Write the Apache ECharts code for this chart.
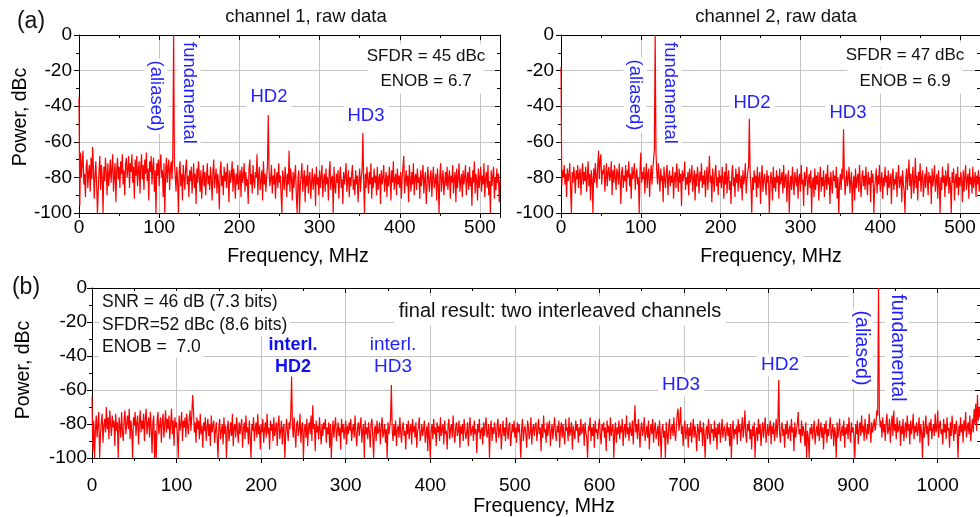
<!DOCTYPE html>
<html>
<head>
<meta charset="utf-8">
<script src="https://cdn.jsdelivr.net/npm/echarts@6/dist/echarts.min.js"></script>
<style>
html, body { margin: 0; padding: 0; background: #fff; }
#chart { width: 980px; height: 517px; }
</style>
</head>
<body>
<div id="chart"></div>
<script>
// one FFT bin per MHz, first bin at 0 MHz
const binMHz = 1;
const rawMaxMHz = 525;
const interlMaxMHz = 1050;

// channel 1, raw data (dBc)
const ch1Power = [
  -35,-96,-66,-80,-72,-65,-84,-78,-91,-74,-70,-86,-77,-73,-88,-69,-81,-63,-75,-92,
  -79,-71,-84,-100,-100,-76,-68,-87,-73,-80,-100,-74,-82,-69,-77,-90,-72,-85,-78,-70,
  -83,-75,-67,-88,-79,-72,-94,-76,-69,-81,-74,-86,-71,-78,-67,-84,-76,-90,-73,-69,
  -80,-75,-68,-86,-72,-77,-67,-83,-74,-92,-70,-79,-68,-85,-76,-71,-89,-74,-67,-81,
  -73,-87,-70,-78,-66,-82,-75,-93,-71,-77,-68,-84,-74,-69,-88,-76,-100,-72,-79,-70,
  -85,-73,-67,-80,-76,-91,-72,-100,-78,-69,-83,-74,-70,-87,-75,-71,-81,-67,0,-72,
  -79,-88,-74,-82,-100,-76,-71,-85,-78,-93,-73,-80,-87,-75,-70,-84,-79,-91,-76,-82,
  -74,-89,-80,-72,-86,-78,-95,-75,-83,-71,-79,-88,-76,-92,-81,-73,-85,-77,-90,-80,
  -72,-84,-79,-87,-74,-81,-93,-77,-70,-86,-80,-75,-89,-78,-83,-98,-76,-71,-85,-79,
  -90,-74,-82,-77,-86,-72,-80,-94,-76,-83,-79,-71,-88,-75,-81,-92,-78,-84,-73,-87,
  -80,-76,-91,-74,-83,-79,-72,-88,-77,-85,-81,-95,-75,-70,-84,-78,-89,-73,-82,-86,
  -77,-80,-67,-90,-79,-74,-87,-82,-76,-93,-71,-84,-78,-88,-80,-74,-45,-76,-85,-81,
  -73,-89,-79,-84,-75,-92,-81,-77,-86,-72,-83,-79,-90,-100,-76,-82,-87,-74,-80,-91,
  -78,-84,-65,-88,-75,-81,-93,-77,-86,-79,-73,-90,-100,-82,-76,-100,-85,-79,-72,-88,
  -81,-76,-94,-79,-85,-73,-89,-80,-77,-92,-83,-75,-87,-81,-78,-96,-74,-84,-80,-90,
  -76,-86,-79,-73,-91,-82,-78,-88,-75,-84,-80,-93,-77,-71,-87,-81,-79,-100,-74,-85,
  -89,-78,-83,-76,-92,-80,-74,-86,-81,-95,-77,-84,-79,-72,-88,-82,-76,-91,-80,-85,
  -78,-73,-87,-81,-90,-76,-84,-79,-94,-82,-75,-88,-80,-76,-55,-83,-100,-78,-86,-74,
  -81,-89,-77,-84,-72,-92,-80,-86,-75,-83,-79,-90,-74,-87,-81,-78,-95,-76,-84,-80,
  -73,-88,-82,-77,-91,-79,-85,-74,-80,-93,-76,-83,-71,-87,-81,-78,-90,-75,-84,-79,
  -86,-77,-92,-80,-74,-68,-89,-82,-76,-85,-79,-94,-73,-81,-88,-77,-84,-72,-90,-80,
  -78,-87,-75,-83,-80,-92,-76,-85,-79,-73,-89,-81,-77,-95,-84,-74,-82,-88,-79,-76,
  -91,-80,-74,-86,-82,-78,-93,-75,-84,-100,-79,-72,-88,-81,-76,-90,-83,-77,-85,-74,
  -87,-80,-76,-92,-79,-83,-73,-89,-81,-77,-94,-75,-86,-80,-72,-88,-82,-78,-91,-76,
  -84,-79,-73,-90,-81,-77,-87,-74,-85,-80,-96,-76,-83,-71,-89,-78,-82,-93,-75,-86,
  -80,-74,-88,-79,-84,-72,-91,-81,-77,-86,-73,-90,-82,-100,-76,-85,-79,-74,-92,-80,
  -87,-75,-83,-78,-94,-81
];

// channel 2, raw data (dBc)
const ch2Power = [
  -18,-85,-76,-80,-73,-84,-78,-91,-75,-82,-79,-72,-87,-100,-77,-83,-74,-80,-89,-76,
  -81,-73,-86,-78,-75,-90,-79,-72,-84,-77,-82,-74,-88,-80,-71,-85,-78,-93,-76,-81,
  -100,-75,-83,-72,-79,-86,-74,-65,-81,-70,-67,-84,-76,-78,-73,-88,-80,-72,-85,-77,
  -74,-82,-79,-71,-90,-76,-83,-73,-80,-87,-75,-78,-84,-72,-81,-95,-77,-74,-86,-79,
  -82,-73,-88,-76,-80,-71,-85,-78,-92,-74,-81,-77,-72,-87,-79,-75,-84,-80,-100,-76,
  -66,-83,-77,-81,-74,-89,-79,-72,-86,-78,-75,-91,-80,-73,-84,-76,-70,-64,0,-66,
  -77,-84,-72,-80,-88,-75,-82,-79,-94,-74,-81,-86,-77,-73,-90,-80,-76,-85,-79,-83,
  -74,-92,-81,-77,-86,-72,-80,-88,-75,-83,-78,-96,-76,-82,-79,-71,-87,-80,-84,-77,
  -90,-75,-83,-79,-73,-88,-81,-76,-93,-78,-85,-74,-80,-89,-77,-82,-72,-86,-79,-84,
  -76,-91,-80,-74,-87,-78,-68,-83,-79,-94,-75,-82,-88,-77,-73,-85,-80,-90,-76,-83,
  -79,-86,-74,-81,-92,-77,-84,-72,-89,-80,-76,-87,-82,-95,-78,-73,-85,-80,-91,-75,
  -83,-78,-88,-74,-81,-86,-79,-93,-76,-84,-80,-72,-89,-82,-77,-74,-47,-78,-85,-100,
  -80,-87,-76,-83,-79,-91,-74,-86,-81,-77,-95,-80,-73,-88,-82,-78,-84,-90,-76,-83,
  -79,-100,-85,-77,-81,-93,-74,-86,-80,-88,-76,-83,-79,-92,-75,-84,-81,-77,-89,-73,
  -86,-80,-78,-94,-82,-76,-100,-84,-79,-87,-74,-83,-90,-77,-81,-85,-75,-92,-80,-78,
  -88,-73,-84,-81,-96,-77,-85,-79,-74,-90,-82,-78,-86,-76,-100,-83,-80,-91,-75,-87,
  -79,-84,-77,-93,-81,-74,-88,-80,-85,-76,-91,-82,-78,-87,-73,-84,-80,-95,-77,-83,
  -89,-76,-82,-79,-86,-74,-92,-80,-100,-84,-78,-87,-75,-81,-53,-79,-90,-83,-76,-85,
  -80,-74,-89,-82,-77,-100,-84,-79,-93,-75,-86,-81,-78,-88,-73,-83,-91,-80,-76,-85,
  -79,-87,-74,-82,-90,-77,-84,-80,-94,-76,-83,-78,-100,-86,-81,-75,-89,-79,-84,-73,
  -88,-81,-77,-92,-80,-85,-74,-83,-79,-90,-76,-86,-82,-78,-95,-80,-75,-87,-81,-84,
  -77,-91,-80,-73,-86,-82,-79,-94,-76,-84,-88,-100,-81,-75,-87,-79,-70,-85,-78,-92,
  -80,-74,-89,-83,-69,-86,-79,-93,-77,-82,-72,-88,-80,-76,-91,-84,-78,-86,-74,-81,
  -90,-77,-83,-79,-95,-75,-85,-80,-73,-88,-82,-78,-92,-76,-84,-100,-80,-87,-74,-83,
  -79,-91,-76,-85,-81,-72,-89,-80,-84,-100,-77,-83,-75,-93,-82,-78,-86,-74,-90,-80,
  -85,-77,-82,-94,-76,-88,-79,-73,-87,-81,-78,-92,-75,-84,-80,-89,-74,-86,-82,-77,
  -91,-79,-84,-76,-88,-80
];

// final result: two interleaved channels (dBc)
const interlPower = [
  -64,-96,-78,-100,-84,-75,-88,-80,-73,-100,-86,-79,-74,-91,-81,-77,-85,-70,-83,-76,-89,-72,-80,-87,-75,
  -82,-78,-93,-74,-84,-79,-100,-76,-81,-88,-73,-85,-90,-77,-72,-86,-80,-75,-83,-71,-89,-78,-84,-100,-76,
  -81,-73,-87,-79,-75,-92,-80,-72,-85,-78,-83,-74,-90,-77,-71,-86,-80,-76,-88,-73,-82,-97,-79,-75,-100,
  -84,-100,-78,-73,-86,-81,-76,-91,-79,-74,-88,-80,-72,-85,-77,-83,-75,-89,-80,-71,-86,-78,-93,-76,-82,
  -79,-87,-100,-75,-84,-80,-73,-90,-78,-82,-76,-88,-74,-81,-86,-77,-72,-84,-75,-63,-72,-85,-79,-91,-76,
  -83,-78,-89,-74,-86,-81,-94,-79,-84,-76,-90,-82,-77,-87,-80,-93,-75,-85,-81,-78,-91,-84,-79,-88,-100,
  -82,-77,-89,-84,-80,-92,-76,-86,-81,-100,-83,-78,-90,-85,-79,-87,-74,-93,-82,-80,-88,-76,-84,-91,-79,
  -86,-81,-77,-94,-83,-79,-89,-75,-85,-82,-92,-78,-87,-100,-80,-84,-76,-90,-83,-79,-88,-74,-86,-81,-95,
  -80,-85,-77,-91,-83,-79,-88,-74,-86,-82,-95,-78,-84,-80,-90,-76,-87,-83,-79,-93,-81,-75,-89,-84,-78,
  -92,-82,-80,-100,-86,-77,-84,-90,-79,-83,-75,-52,-81,-88,-76,-85,-94,-80,-78,-87,-83,-74,-91,-82,-79,
  -100,-84,-80,-88,-77,-93,-82,-79,-86,-75,-90,-69,-83,-80,-96,-78,-85,-81,-89,-76,-84,-92,-80,-87,-79,
  -83,-77,-91,-82,-86,-79,-94,-80,-100,-85,-78,-88,-81,-76,-90,-84,-79,-87,-82,-95,-77,-85,-80,-89,-83,
  -78,-92,-81,-86,-79,-84,-77,-90,-83,-80,-88,-75,-85,-93,-82,-79,-87,-81,-76,-91,-84,-80,-100,-78,-86,
  -82,-89,-79,-85,-94,-80,-77,-87,-100,-83,-81,-90,-78,-86,-84,-79,-92,-82,-76,-88,-85,-80,-91,-83,-100,
  -79,-86,-82,-77,-57,-84,-90,-80,-87,-78,-93,-83,-81,-88,-76,-85,-91,-82,-79,-87,-84,-95,-80,-86,-78,
  -89,-83,-80,-92,-77,-85,-81,-88,-79,-94,-84,-82,-76,-90,-86,-80,-87,-83,-78,-91,-85,-81,-96,-79,-88,
  -100,-84,-80,-89,-77,-86,-82,-93,-79,-85,-81,-90,-76,-87,-83,-80,-92,-78,-86,-84,-95,-81,-77,-89,-83,
  -80,-88,-75,-85,-91,-82,-79,-87,-84,-78,-94,-81,-86,-80,-90,-77,-83,-89,-85,-79,-93,-82,-76,-87,-84,
  -81,-90,-78,-86,-83,-97,-80,-85,-77,-89,-84,-82,-92,-79,-87,-81,-76,-88,-85,-80,-100,-83,-78,-90,-82,
  -86,-79,-84,-91,-81,-77,-88,-83,-80,-95,-85,-78,-87,-82,-90,-76,-84,-89,-81,-79,-93,-86,-80,-85,-78,
  -88,-82,-91,-79,-85,-80,-87,-100,-83,-77,-90,-84,-81,-86,-94,-78,-82,-89,-85,-76,-92,-83,-80,-87,-81,
  -79,-90,-84,-77,-86,-82,-96,-80,-88,-75,-85,-83,-91,-79,-87,-81,-78,-93,-84,-80,-89,-82,-76,-86,-90,
  -81,-85,-78,-94,-83,-79,-88,-80,-86,-92,-77,-84,-82,-90,-76,-87,-83,-79,-95,-81,-85,-89,-78,-84,-80,
  -91,-82,-87,-77,-86,-83,-80,-93,-79,-85,-88,-100,-81,-84,-76,-90,-82,-87,-80,-94,-78,-85,-83,-89,-81,
  -77,-86,-92,-80,-84,-79,-88,-82,-96,-78,-85,-81,-90,-76,-87,-83,-80,-100,-84,-79,-91,-82,-86,-78,-89,
  -81,-85,-77,-93,-83,-80,-88,-75,-86,-82,-90,-79,-84,-87,-78,-92,-81,-69,-85,-80,-89,-77,-84,-94,-82,
  -79,-87,-83,-76,-90,-85,-81,-88,-78,-95,-84,-80,-86,-77,-91,-82,-79,-89,-85,-81,-93,-78,-86,-100,-83,
  -80,-88,-84,-100,-79,-86,-92,-81,-77,-89,-83,-80,-87,-76,-85,-90,-82,-74,-71,-84,-79,-70,-86,-81,-93,
  -83,-78,-89,-85,-80,-94,-82,-87,-79,-91,-84,-77,-88,-81,-86,-96,-80,-83,-90,-78,-85,-82,-93,-79,-87,
  -100,-84,-81,-89,-77,-86,-92,-80,-85,-83,-90,-78,-88,-82,-95,-80,-86,-79,-91,-84,-77,-88,-83,-81,-90,
  -85,-79,-87,-82,-93,-80,-100,-84,-78,-89,-83,-86,-81,-92,-77,-85,-80,-90,-83,-76,-88,-82,-72,-86,-91,
  -80,-84,-78,-89,-83,-95,-81,-87,-79,-100,-85,-82,-90,-77,-86,-80,-93,-84,-79,-88,-82,-76,-91,-85,-80,
  -87,-83,-78,-92,-81,-86,-79,-90,-84,-77,-88,-80,-54,-85,-91,-82,-79,-87,-83,-94,-80,-86,-78,-89,-84,
  -81,-90,-77,-85,-82,-96,-79,-88,-84,-80,-73,-86,-83,-91,-78,-87,-81,-85,-93,-79,-100,-84,-88,-100,-82,
  -86,-80,-89,-83,-78,-92,-85,-81,-87,-77,-90,-84,-79,-88,-82,-95,-80,-86,-78,-91,-83,-87,-81,-76,-89,
  -84,-80,-93,-82,-86,-100,-79,-88,-83,-77,-90,-85,-81,-87,-78,-94,-82,-86,-80,-89,-76,-84,-91,-79,-85,
  -82,-88,-100,-80,-86,-78,-92,-83,-79,-87,-75,-85,-81,-90,-77,-84,-89,-80,-86,-74,-83,-91,-79,-85,-81,
  -77,-84,-80,-72,-75,0,-74,-82,-78,-88,-76,-85,-80,-90,-79,-74,-86,-83,-77,-91,-81,-75,-87,-72,-84,
  -80,-89,-76,-85,-82,-78,-93,-81,-86,-77,-90,-83,-79,-88,-75,-84,-80,-92,-78,-86,-82,-74,-89,-81,-85,
  -79,-87,-83,-76,-91,-80,-85,-100,-78,-88,-82,-75,-86,-81,-93,-79,-84,-77,-89,-83,-80,-87,-74,-85,-82,
  -72,-88,-81,-78,-86,-83,-92,-77,-85,-80,-89,-76,-84,-82,-94,-79,-87,-75,-83,-90,-80,-86,-78,-84,-100,
  -81,-87,-76,-85,-80,-91,-78,-84,-73,-88,-82,-79,-86,-75,-90,-83,-77,-85,-71,-80,-68,-84,-63,-78,-70,
  -76
];

const FONT = '"Liberation Sans", Arial, Helvetica, sans-serif';
const BLUE = '#1f1fff';
const GRID_GRAY = '#c4c4c4';

function toPairs(arr) {
  return arr.map(function (v, i) { return [i * binMHz, v]; });
}

function plainNumber(v) { return String(v); }

function freqAxis(grid, max, labelMargin) {
  return {
    type: 'value', gridIndex: grid, position: 'bottom', min: 0, max: max, interval: 100,
    axisLine: { show: true, onZero: false, lineStyle: { color: '#000', width: 1 } },
    axisTick: { show: true, inside: false, length: 5, lineStyle: { color: '#000' } },
    minorTick: { show: true, splitNumber: 2, length: 3, lineStyle: { color: '#000' } },
    splitLine: { show: true, showMinLine: false, showMaxLine: false, lineStyle: { color: GRID_GRAY, width: 1 } },
    axisLabel: { fontSize: 19, color: '#000', fontFamily: FONT, margin: labelMargin, showMaxLabel: false, formatter: plainNumber }
  };
}

function powerAxis(grid, labelMargin) {
  return {
    type: 'value', gridIndex: grid, position: 'left', min: -100, max: 0, interval: 20,
    axisLine: { show: true, onZero: false, lineStyle: { color: '#000', width: 1 } },
    axisTick: { show: true, inside: false, length: 5, lineStyle: { color: '#000' } },
    minorTick: { show: true, splitNumber: 2, length: 3, lineStyle: { color: '#000' } },
    splitLine: { show: true, showMinLine: false, showMaxLine: false, lineStyle: { color: GRID_GRAY, width: 1 } },
    axisLabel: { fontSize: 19, color: '#000', fontFamily: FONT, margin: labelMargin, formatter: plainNumber }
  };
}

// mirrored frame axes: top and right, ticks pointing inward
function mirror(base, position) {
  const a = Object.assign({}, base);
  a.position = position;
  a.axisTick = { show: true, inside: true, length: 5, lineStyle: { color: '#000' } };
  a.axisLabel = { show: false };
  a.splitLine = { show: false };
  return a;
}

function txt(text, x, y, o) {
  o = o || {};
  return {
    type: 'text', x: x, y: y, rotation: o.rot || 0, z: 1,
    style: {
      text: text,
      font: (o.bold ? 'bold ' : '') + (o.size || 17) + 'px ' + FONT,
      fill: o.color || '#111',
      align: o.align || 'center',
      verticalAlign: 'middle',
      backgroundColor: o.bg ? '#fff' : null,
      padding: o.bg ? (o.pad || [2, 4]) : 0
    }
  };
}

const xAxes = [
  freqAxis(0, rawMaxMHz, 5),
  freqAxis(1, rawMaxMHz, 5),
  freqAxis(2, interlMaxMHz, 18)
];
const yAxes = [powerAxis(0, 7), powerAxis(1, 7), powerAxis(2, 5)];

const down = -Math.PI / 2;
const up = Math.PI / 2;

const texts = [
  // panel (a), channel 1
  txt('(a)', 31, 22, { size: 23 }),
  txt('channel 1, raw data', 306, 17, { size: 18.5 }),
  txt('SFDR = 45 dBc', 426, 56, { bg: true, pad: [4, 6] }),
  txt('ENOB = 6.7', 426, 81, { bg: true, pad: [4, 12] }),
  txt('(aliased)', 156, 96, { rot: down, size: 18.5, color: BLUE, bg: true, pad: [2, 2] }),
  txt('fundamental', 189, 93, { rot: down, size: 18.5, color: BLUE, bg: true, pad: [2, 2] }),
  txt('HD2', 269, 97, { size: 18.5, color: BLUE, bg: true }),
  txt('HD3', 366, 116, { size: 18.5, color: BLUE, bg: true }),
  txt('Frequency, MHz', 298, 257, { size: 19.5, color: '#000' }),
  txt('Power, dBc', 21, 117, { rot: up, size: 19.5, color: '#000' }),
  // panel (a), channel 2
  txt('channel 2, raw data', 776, 17, { size: 18.5 }),
  txt('SFDR = 47 dBc', 905, 55, { bg: true, pad: [4, 6] }),
  txt('ENOB = 6.9', 905, 81, { bg: true, pad: [4, 12] }),
  txt('(aliased)', 635, 95, { rot: down, size: 18.5, color: BLUE, bg: true, pad: [2, 2] }),
  txt('fundamental', 670, 93, { rot: down, size: 18.5, color: BLUE, bg: true, pad: [2, 2] }),
  txt('HD2', 752, 103, { size: 18.5, color: BLUE, bg: true }),
  txt('HD3', 848, 113, { size: 18.5, color: BLUE, bg: true }),
  txt('Frequency, MHz', 771, 257, { size: 19.5, color: '#000' }),
  // panel (b)
  txt('(b)', 26, 288, { size: 23 }),
  txt('SNR = 46 dB (7.3 bits)', 99, 302, { size: 17.5, align: 'left', bg: true, pad: [2, 3] }),
  txt('SFDR=52 dBc (8.6 bits)', 99, 325, { size: 17.5, align: 'left', bg: true, pad: [2, 3] }),
  txt('ENOB =  7.0', 99, 347, { size: 17.5, align: 'left', bg: true, pad: [2, 3] }),
  txt('final result: two interleaved channels', 560, 311, { size: 20, bg: true, pad: [6, 5, 3, 5] }),
  txt('interl.', 293, 345, { size: 18, bold: true, color: '#1010f0', bg: true, pad: [1, 3] }),
  txt('HD2', 293, 367, { size: 18, bold: true, color: '#1010f0', bg: true, pad: [0, 3] }),
  txt('interl.', 393, 345, { size: 19, color: BLUE, bg: true, pad: [1, 3] }),
  txt('HD3', 393, 367, { size: 19, color: BLUE, bg: true, pad: [0, 3] }),
  txt('HD3', 681, 385, { size: 19, color: BLUE, bg: true }),
  txt('HD2', 780, 365, { size: 19, color: BLUE, bg: true }),
  txt('(aliased)', 861, 348, { rot: down, size: 19.5, color: BLUE, bg: true, pad: [2, 2] }),
  txt('fundamental', 897, 348, { rot: down, size: 19.5, color: BLUE, bg: true, pad: [2, 2] }),
  txt('Frequency, MHz', 544, 507, { size: 19.5, color: '#000' }),
  txt('Power, dBc', 24, 370, { rot: up, size: 19.5, color: '#000' })
];

function trace(data, idx) {
  return {
    type: 'line', xAxisIndex: idx, yAxisIndex: idx, data: toPairs(data),
    showSymbol: false, symbol: 'none', clip: true, z: 2,
    lineStyle: { color: '#ff0000', width: 1.2 }
  };
}

const chart = echarts.init(document.getElementById('chart'), null, { renderer: 'canvas' });
chart.setOption({
  animation: false,
  backgroundColor: '#fff',
  textStyle: { fontFamily: FONT },
  grid: [
    { left: 79, top: 35, width: 421, height: 178 },
    { left: 561, top: 35, width: 421, height: 178 },
    { left: 92, top: 288, width: 890, height: 170 }
  ],
  xAxis: xAxes.concat(xAxes.map(function (a) { return mirror(a, 'top'); })),
  yAxis: yAxes.concat(yAxes.map(function (a) { return mirror(a, 'right'); })),
  series: [trace(ch1Power, 0), trace(ch2Power, 1), trace(interlPower, 2)],
  graphic: { elements: texts }
});
</script>
</body>
</html>
